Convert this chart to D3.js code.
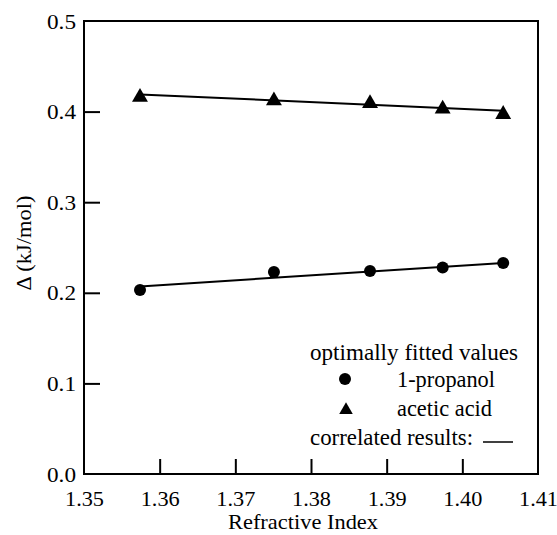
<!DOCTYPE html>
<html>
<head>
<meta charset="utf-8">
<script src="https://cdn.jsdelivr.net/npm/d3@7"></script>
</head>
<body style="margin:0">
<script>
const w = 557;
const h = 535;
const margin = { top: 21, right: 19, bottom: 61, left: 84 };
const fontList = '"Liberation Serif", "DejaVu Serif", serif';

// refractive index of each sample
const refIndex = [1.3574, 1.3751, 1.3878, 1.3974, 1.4054];
// optimally fitted values
const propanol = [0.203, 0.223, 0.224, 0.228, 0.233];
const aceticAcid = [0.416, 0.412, 0.409, 0.403, 0.397];
// correlated results (end points of straight lines)
const propanolFit = [0.207, 0.233];
const aceticFit = [0.419, 0.401];

const xTicks = [1.35, 1.36, 1.37, 1.38, 1.39, 1.4, 1.41];
const yTicks = [0.0, 0.1, 0.2, 0.3, 0.4, 0.5];

const x = d3.scaleLinear().domain([1.35, 1.41]).range([margin.left, w - margin.right]);
const y = d3.scaleLinear().domain([0, 0.5]).range([h - margin.bottom, margin.top]);

const svg = d3.select('body').append('svg').attr('width', w).attr('height', h);

// serif text, squeezed to the width it has in the original
function label(sel, px, len) {
  return sel.attr('font-family', fontList)
    .attr('font-size', px)
    .attr('fill', '#000')
    .attr('textLength', len)
    .attr('lengthAdjust', 'spacingAndGlyphs');
}

// frame
svg.append('rect')
  .attr('x', x(1.35)).attr('y', y(0.5))
  .attr('width', x(1.41) - x(1.35)).attr('height', y(0) - y(0.5))
  .attr('fill', 'none').attr('stroke', '#000').attr('stroke-width', 2);

const xAxis = d3.axisBottom(x).tickValues(xTicks).tickFormat(d3.format('.2f'))
  .tickSizeInner(-15).tickSizeOuter(0).tickPadding(16);
const yAxis = d3.axisLeft(y).tickValues(yTicks).tickFormat(d3.format('.1f'))
  .tickSizeInner(-16).tickSizeOuter(0).tickPadding(8);

const gx = svg.append('g').attr('transform', `translate(0,${y(0)})`).call(xAxis);
const gy = svg.append('g').attr('transform', `translate(${x(1.35)},0)`).call(yAxis);
[gx, gy].forEach((g) => {
  g.attr('font-family', null).attr('font-size', null);
  g.select('.domain').remove();
  g.selectAll('line').attr('stroke', '#000').attr('stroke-width', 2);
});
label(gx.selectAll('text'), 22, 39);
label(gy.selectAll('text'), 22, 29);
gx.selectAll('.tick').filter((d) => d === 1.35 || d === 1.41).select('line').remove();
gy.selectAll('.tick').filter((d) => d === 0 || d === 0.5).select('line').remove();

// axis titles
label(svg.append('text'), 22, 150)
  .attr('x', 303).attr('y', 529)
  .attr('text-anchor', 'middle')
  .text('Refractive Index');
label(svg.append('text'), 22, 95)
  .attr('transform', 'translate(31,243) rotate(-90)')
  .attr('text-anchor', 'middle')
  .text('Δ (kJ/mol)');

// correlated lines
const fitX = [refIndex[0], refIndex[refIndex.length - 1]];
[propanolFit, aceticFit].forEach((fit) => {
  svg.append('line')
    .attr('x1', x(fitX[0])).attr('y1', y(fit[0]))
    .attr('x2', x(fitX[1])).attr('y2', y(fit[1]))
    .attr('stroke', '#000').attr('stroke-width', 2);
});

const tri = d3.symbol().type(d3.symbolTriangle).size(110);

svg.selectAll('circle.pt')
  .data(propanol)
  .enter()
  .append('circle')
  .attr('class', 'pt')
  .attr('cx', (d, i) => x(refIndex[i]))
  .attr('cy', (d) => y(d))
  .attr('r', 6);

svg.selectAll('path.tri')
  .data(aceticAcid)
  .enter()
  .append('path')
  .attr('class', 'tri')
  .attr('d', tri)
  .attr('transform', (d, i) => `translate(${x(refIndex[i])},${y(d)})`);

// legend
label(svg.append('text'), 23, 208).attr('x', 414).attr('y', 360)
  .attr('text-anchor', 'middle').text('optimally fitted values');
svg.append('circle').attr('cx', 345).attr('cy', 379).attr('r', 6);
label(svg.append('text'), 23, 98).attr('x', 397).attr('y', 387).text('1-propanol');
svg.append('path').attr('d', d3.symbol().type(d3.symbolTriangle).size(80)).attr('transform', 'translate(346,410)');
label(svg.append('text'), 23, 95).attr('x', 397).attr('y', 416).text('acetic acid');
label(svg.append('text'), 23, 163).attr('x', 310).attr('y', 445).text('correlated results:');
svg.append('line').attr('x1', 483).attr('x2', 513).attr('y1', 442).attr('y2', 442)
  .attr('stroke', '#000').attr('stroke-width', 1.5);
</script>
</body>
</html>
